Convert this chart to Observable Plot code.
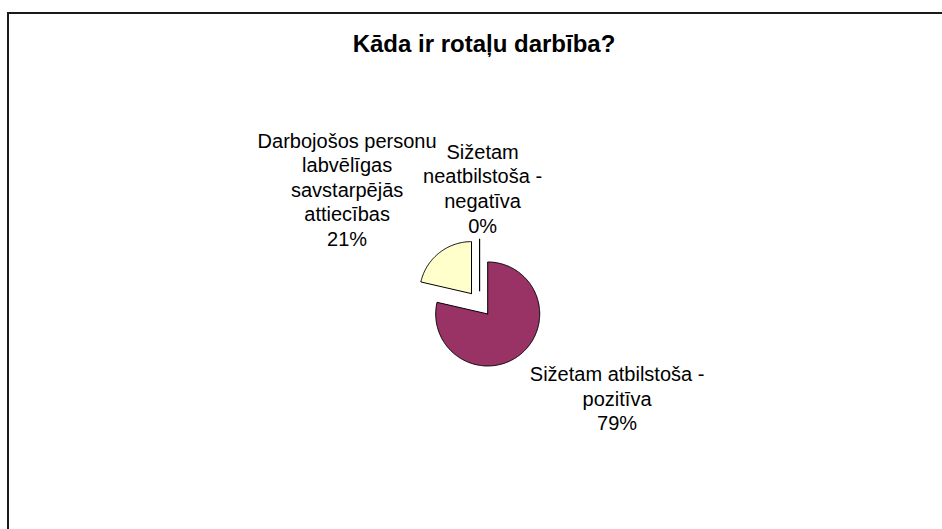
<!DOCTYPE html>
<html>
<head>
<meta charset="utf-8">
<script src="https://cdn.jsdelivr.net/npm/d3@7"></script>
<script src="https://cdn.jsdelivr.net/npm/@observablehq/plot@0.6"></script>
<style>
  html, body { margin: 0; padding: 0; background: #fff; overflow: hidden; }
  #wrap { position: relative; width: 942px; height: 529px; overflow: hidden; }
  #border { position: absolute; left: 7px; top: 12px; width: 1100px; height: 700px; border-top: 2px solid #1a1a1a; border-left: 2px solid #1a1a1a; box-sizing: border-box; pointer-events: none; }
  #chart { position: absolute; left: 0; top: 0; }
</style>
</head>
<body>
<div id="wrap"><div id="chart"></div><div id="border"></div></div>
<script>
// ---- data ----
const title = "Kāda ir rotaļu darbība?";
const categories = [
  "Sižetam atbilstoša - pozitīva",
  "Darbojošos personu labvēlīgas savstarpējās attiecības",
  "Sižetam neatbilstoša - negatīva"
];
const values = [78.6, 21.4, 0];
const labelLines = [
  "Sižetam atbilstoša -\npozitīva",
  "Darbojošos personu\nlabvēlīgas\nsavstarpējās\nattiecības",
  "Sižetam\nneatbilstoša -\nnegatīva"
];
const colors = ["#993366", "#FFFFCC", "#FFFFFF"];

// ---- layout ----
const W = 942, H = 529;
const pxPerUnit = 52;            // pie radius in pixels
const center = [479.1, 303.3];   // pie centre in pixels
const explode = 0.25;            // explosion in radius units
const labelShift = [[97, 43], [-92, -64], [3, -51]]; // px, from the slice's outer midpoint

const xDomain = [-center[0] / pxPerUnit, (W - center[0]) / pxPerUnit];
const yDomain = [-(H - center[1]) / pxPerUnit, center[1] / pxPerUnit];

const total = d3.sum(values);
let acc = 0;
const slices = categories.map((c, i) => {
  const a0 = acc / total * 2 * Math.PI;
  acc += values[i];
  const a1 = acc / total * 2 * Math.PI;
  return {c, i, a0, a1, mid: (a0 + a1) / 2};
});

const pts = [];
for (const s of slices) {
  const ox = explode * Math.sin(s.mid), oy = explode * Math.cos(s.mid);
  pts.push({c: s.c, x: ox, y: oy});
  const n = Math.max(1, Math.ceil((s.a1 - s.a0) / (Math.PI / 180)));
  for (let k = 0; k <= n; k++) {
    const a = s.a0 + (s.a1 - s.a0) * k / n;
    pts.push({c: s.c, x: ox + Math.sin(a), y: oy + Math.cos(a)});
  }
  pts.push({c: s.c, x: ox, y: oy});
}

const labels = slices.map((s, i) => ({
  x: (1 + explode) * Math.sin(s.mid) + labelShift[i][0] / pxPerUnit,
  y: (1 + explode) * Math.cos(s.mid) - labelShift[i][1] / pxPerUnit,
  text: labelLines[i] + "\n" + Math.round(values[i] / total * 100) + "%"
}));

const chart = Plot.plot({
  width: W,
  height: H,
  margin: 0,
  style: {fontFamily: "'Liberation Sans', Arial, sans-serif", background: "transparent"},
  x: {domain: xDomain, axis: null},
  y: {domain: yDomain, axis: null},
  color: {domain: categories, range: colors},
  marks: [
    Plot.line(pts, {x: "x", y: "y", z: "c", fill: "c", stroke: "#000", strokeWidth: 1, curve: "linear", strokeLinejoin: "round"}),
    Plot.text(labels, {x: "x", y: "y", text: "text", fontSize: 20, lineHeight: 1.23, lineAnchor: "middle", textAnchor: "middle", fill: "#000"}),
    Plot.text([title], {frameAnchor: "top-left", dx: 483.5, dy: 44, text: d => d, fontSize: 24, fontWeight: "bold", textAnchor: "middle", lineAnchor: "middle", fill: "#000"})
  ]
});
document.getElementById("chart").appendChild(chart);
</script>
</body>
</html>
